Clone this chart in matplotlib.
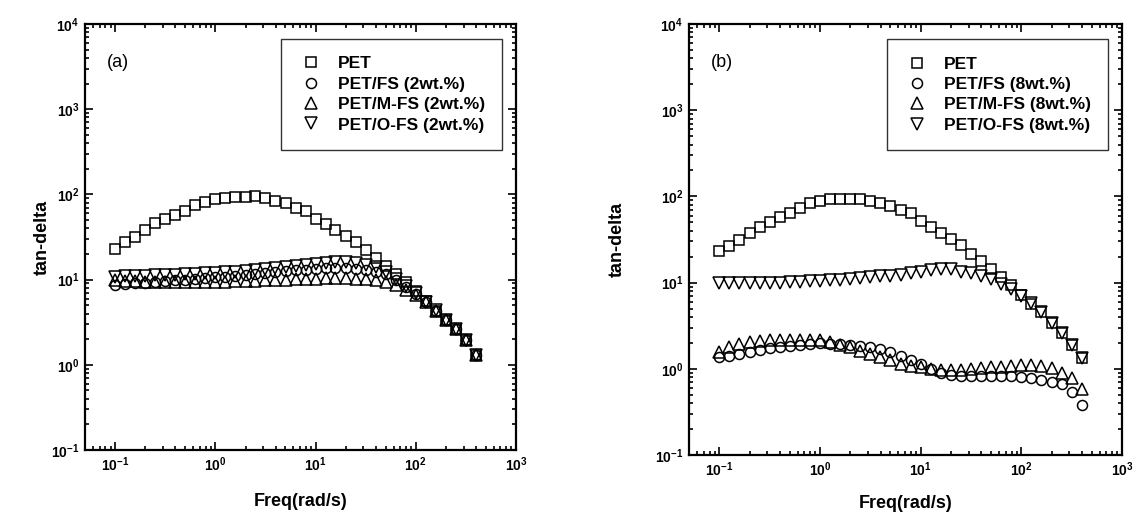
import matplotlib
matplotlib.use('Agg')
import matplotlib.pyplot as plt
from matplotlib.ticker import LogLocator, NullFormatter

plt.rcParams['font.family'] = ['Liberation Sans', 'DejaVu Sans']
plt.rcParams['font.weight'] = 'bold'
plt.rcParams['mathtext.default'] = 'regular'

freq = [0.1, 0.126, 0.158, 0.2, 0.251, 0.316, 0.398, 0.501, 0.631, 0.794,
        1.0, 1.26, 1.58, 2.0, 2.51, 3.16, 3.98, 5.01, 6.31, 7.94,
        10.0, 12.6, 15.8, 20.0, 25.1, 31.6, 39.8, 50.1, 63.1, 79.4,
        100, 126, 158, 200, 251, 316, 398]

# (a) 2 wt.%
pet_a = [22.9, 27.4, 31.4, 37.9, 46.6, 51, 57, 64, 76, 82,
         87.5, 91, 94, 94, 95, 90, 84, 79, 70, 64,
         52, 45, 38.2, 32.7, 27.9, 22.2, 17.8, 14.4, 11.6, 9.45,
         7.4, 5.6, 4.3, 3.4, 2.62, 1.95, 1.30]
fs_a = [8.6, 8.8, 9.0, 9.2, 9.4, 9.6, 9.8, 10.0, 10.2, 10.4,
        10.6, 10.8, 11.0, 11.3, 11.6, 11.9, 12.2, 12.5, 12.8, 13.1,
        13.3, 13.5, 13.6, 13.6, 13.4, 13.0, 12.4, 11.6, 9.9, 8.1,
        6.8, 5.4, 4.3, 3.4, 2.6, 1.95, 1.30]
mfs_a = [9.8, 9.6, 9.5, 9.4, 9.4, 9.3, 9.3, 9.3, 9.3, 9.3,
         9.4, 9.4, 9.5, 9.6, 9.7, 9.8, 9.9, 10.0, 10.1, 10.2,
         10.3, 10.4, 10.4, 10.4, 10.3, 10.1, 9.8, 9.3, 8.6, 7.6,
         6.6, 5.4, 4.3, 3.4, 2.6, 1.95, 1.30]
ofs_a = [10.8, 10.9, 11.0, 11.1, 11.2, 11.3, 11.4, 11.5, 11.6, 11.8,
         12.0, 12.2, 12.4, 12.7, 13.0, 13.3, 13.6, 14.0, 14.4, 14.8,
         15.2, 15.6, 15.9, 16.0, 15.8, 15.0, 14.0, 12.4, 10.2, 8.3,
         6.9, 5.5, 4.4, 3.4, 2.6, 1.95, 1.30]

# (b) 8 wt.%
pet_b = [23.4, 26.6, 31.2, 37.9, 44.5, 50.9, 57.2, 63.7, 74, 83,
         89, 92.5, 94, 94, 92.5, 89, 83, 77.5, 69.5, 63.7,
         52.2, 44.5, 37.9, 31.8, 27.3, 21.5, 18, 14.3, 11.7, 9.4,
         7.2, 5.65, 4.5, 3.43, 2.58, 1.9, 1.32]
fs_b = [1.36, 1.42, 1.50, 1.58, 1.66, 1.72, 1.77, 1.84, 1.90, 1.95,
        1.97, 1.96, 1.94, 1.90, 1.84, 1.77, 1.70, 1.58, 1.41, 1.27,
        1.14, 1.0, 0.90, 0.85, 0.83, 0.83, 0.83, 0.82, 0.82, 0.82,
        0.80, 0.78, 0.75, 0.70, 0.66, 0.54, 0.38]
mfs_b = [1.58, 1.77, 1.95, 2.05, 2.12, 2.16, 2.18, 2.18, 2.18, 2.16,
         2.16, 2.06, 1.90, 1.77, 1.62, 1.50, 1.38, 1.27, 1.15, 1.09,
         1.06, 0.99, 0.96, 0.96, 0.98, 0.99, 1.01, 1.04, 1.06, 1.08,
         1.10, 1.11, 1.08, 1.01, 0.90, 0.78, 0.59]
ofs_b = [9.8, 9.8, 9.8, 9.9, 9.9, 10.0, 10.0, 10.1, 10.2, 10.3,
         10.4, 10.6, 10.8, 11.0, 11.2, 11.5, 11.8, 12.0, 12.4, 12.9,
         13.4, 14.0, 14.5, 14.3, 13.4, 12.8, 11.9, 10.9, 9.6, 8.4,
         7.0, 5.75, 4.5, 3.43, 2.58, 1.9, 1.32]

labels_a = ['PET', 'PET/FS (2wt.%)', 'PET/M-FS (2wt.%)', 'PET/O-FS (2wt.%)']
labels_b = ['PET', 'PET/FS (8wt.%)', 'PET/M-FS (8wt.%)', 'PET/O-FS (8wt.%)']
markers = ['s', 'o', '^', 'v']
msizes = [6.8, 7.2, 8, 8]

fig = plt.figure(figsize=(11.41, 5.22), dpi=100)
ax_a = fig.add_axes([85/1141, 1-450/522, 431/1141, 426/522])
ax_b = fig.add_axes([689/1141, 1-455/522, 433/1141, 431/522])

# axes, data, legend labels, tag, ylabel x, xlabel y
panels = [(ax_a, [pet_a, fs_a, mfs_a, ofs_a], labels_a, '(a)', -0.08, -0.10),
          (ax_b, [pet_b, fs_b, mfs_b, ofs_b], labels_b, '(b)', -0.145, -0.093)]

for ax, series, labels, tag, ylx, xly in panels:
    for ys, m, ms, lab in zip(series, markers, msizes, labels):
        ax.plot(freq, ys, linestyle='none', marker=m, markersize=ms,
                markerfacecolor='none', markeredgecolor='black',
                markeredgewidth=1.1, label=lab)
    ax.set_xscale('log')
    ax.set_yscale('log')
    ax.set_xlim(0.05, 1000)
    ax.set_ylim(0.1, 1e4)
    ax.xaxis.set_major_locator(LogLocator(base=10, numticks=10))
    ax.yaxis.set_major_locator(LogLocator(base=10, numticks=10))
    ax.xaxis.set_minor_locator(LogLocator(base=10, subs=range(2, 10), numticks=20))
    ax.yaxis.set_minor_locator(LogLocator(base=10, subs=range(2, 10), numticks=20))
    ax.xaxis.set_minor_formatter(NullFormatter())
    ax.yaxis.set_minor_formatter(NullFormatter())
    ax.tick_params(which='both', direction='in', top=True, right=True,
                   labelsize=10, width=1.2)
    ax.tick_params(which='major', length=6, pad=4)
    ax.tick_params(which='minor', length=3)
    for sp in ax.spines.values():
        sp.set_linewidth(1.6)
    ax.set_xlabel('Freq(rad/s)', fontsize=13, fontweight='bold')
    ax.set_ylabel('tan-delta', fontsize=13, fontweight='bold')
    ax.xaxis.set_label_coords(0.5, xly)
    ax.yaxis.set_label_coords(ylx, 0.5)
    ax.text(0.05, 0.91, tag, transform=ax.transAxes, fontsize=13,
            fontweight='normal', va='center')
    leg = ax.legend(loc='upper right', bbox_to_anchor=(0.968, 0.965),
                    fontsize=12.5, frameon=True, fancybox=False,
                    edgecolor='black', handlelength=1.45, handletextpad=0.84,
                    borderpad=1.0, labelspacing=0.3, borderaxespad=0)
    leg.get_frame().set_linewidth(1.0)

fig.savefig('out.png', dpi=100)
